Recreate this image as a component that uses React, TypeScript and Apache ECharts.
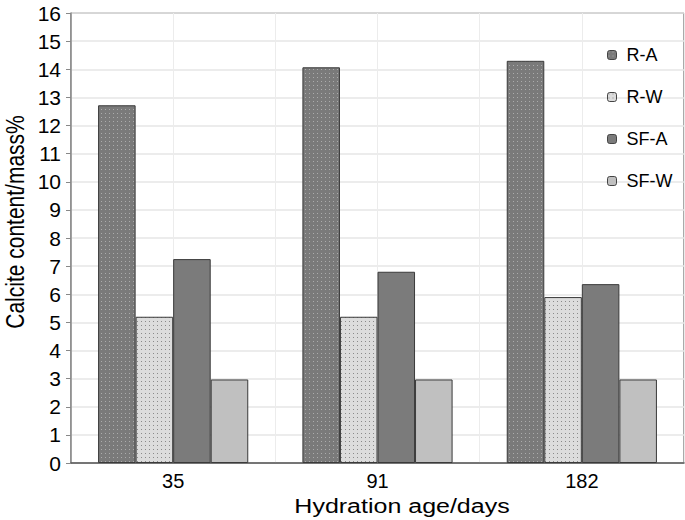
import React, { useEffect, useRef } from "react";
import * as echarts from "echarts";

const categories = ["35", "91", "182"];
const seriesNames = ["R-A", "R-W", "SF-A", "SF-W"];
const rA = [12.72, 14.07, 14.3];
const rW = [5.2, 5.2, 5.9];
const sfA = [7.25, 6.8, 6.36];
const sfW = [2.97, 2.97, 2.97];
const yTicks = { min: 0, max: 16, interval: 1 };
const xName = "Hydration age/days";
const yName = "Calcite content/mass%";

function dotPattern(bg: string, dot: string): string {
  const c = document.createElement("canvas");
  c.width = 8;
  c.height = 8;
  const ctx = c.getContext("2d")!;
  ctx.fillStyle = bg;
  ctx.fillRect(0, 0, 8, 8);
  ctx.fillStyle = dot;
  ctx.fillRect(1, 1, 1, 1);
  ctx.fillRect(5, 5, 1, 1);
  ctx.fillRect(5, 1, 1, 1);
  ctx.fillRect(1, 5, 1, 1);
  return c.toDataURL();
}

export default function App() {
  const ref = useRef<HTMLDivElement>(null);
  useEffect(() => {
    if (!ref.current) return;
    const chart = echarts.init(ref.current, undefined, { renderer: "svg" });
    const font = "Liberation Sans, Arial, Helvetica, sans-serif";
    const patA = { image: dotPattern("#7a7a7a", "#acacac"), repeat: "repeat" };
    const patW = { image: dotPattern("#dcdcdc", "#8a8a8a"), repeat: "repeat" };
    const colors: any[] = [patA, patW, "#7b7b7b", "#c0c0c0"];
    const values = [rA, rW, sfA, sfW];
    chart.setOption({
      animation: false,
      backgroundColor: "#ffffff",
      textStyle: { fontFamily: font },
      grid: {
        left: 71,
        right: 1,
        top: 13,
        bottom: 57,
        show: true,
        borderColor: "#555",
        borderWidth: 1,
      },
      legend: {
        orient: "vertical",
        left: 602,
        top: 41,
        itemWidth: 9,
        itemHeight: 9,
        itemGap: 24,
        data: seriesNames,
        textStyle: { fontFamily: font, fontSize: 18, color: "#000", lineHeight: 18, padding: [0, 0, 0, 5] },
        itemStyle: { borderColor: "#444", borderWidth: 1 },
      },
      graphic: [
        {
          type: "text",
          x: 402,
          y: 506,
          scaleX: 1.25,
          style: {
            text: xName,
            fontFamily: font,
            fontSize: 20,
            fill: "#000",
            align: "center",
            verticalAlign: "middle",
          },
        },
        {
          type: "text",
          x: 15,
          y: 222,
          rotation: Math.PI / 2,
          scaleY: 1.2,
          style: {
            text: yName,
            fontFamily: font,
            fontSize: 21,
            fill: "#000",
            align: "center",
            verticalAlign: "middle",
          },
        },
      ],
      xAxis: [
        {
          type: "category",
          data: categories,
          axisLine: { lineStyle: { color: "#555", width: 1.5 } },
          axisTick: { show: false },
          splitLine: { show: false },
          axisLabel: { fontFamily: font, fontSize: 20, color: "#000", margin: 8 },
        },
        {
          type: "category",
          data: ["a", "b", "c", "d", "e", "f"],
          position: "bottom",
          axisLine: { show: false },
          axisTick: { show: false },
          axisLabel: { show: false },
          splitLine: { show: true, lineStyle: { color: "#ececec", width: 1 } },
        },
      ],
      yAxis: {
        type: "value",
        min: yTicks.min,
        max: yTicks.max,
        interval: yTicks.interval,
        axisLine: { show: true, lineStyle: { color: "#888", width: 1.5 } },
        axisTick: { show: true, length: 5, lineStyle: { color: "#888" } },
        splitLine: { show: true, lineStyle: { color: "#e6e6e6", width: 1.5 } },
        axisLabel: { fontFamily: font, fontSize: 21, color: "#000", margin: 10 },
      },
      series: seriesNames.map((n, i) => ({
        name: n,
        type: "bar",
        xAxisIndex: 0,
        data: values[i],
        barGap: "0%",
        barCategoryGap: "26.5%",
        itemStyle: { color: colors[i], borderColor: "#3a3a3a", borderWidth: 1 },
      })),
    });
    return () => chart.dispose();
  }, []);
  return <div ref={ref} style={{ width: 685, height: 520, position: "absolute", left: 0, top: 0 }} />;
}
